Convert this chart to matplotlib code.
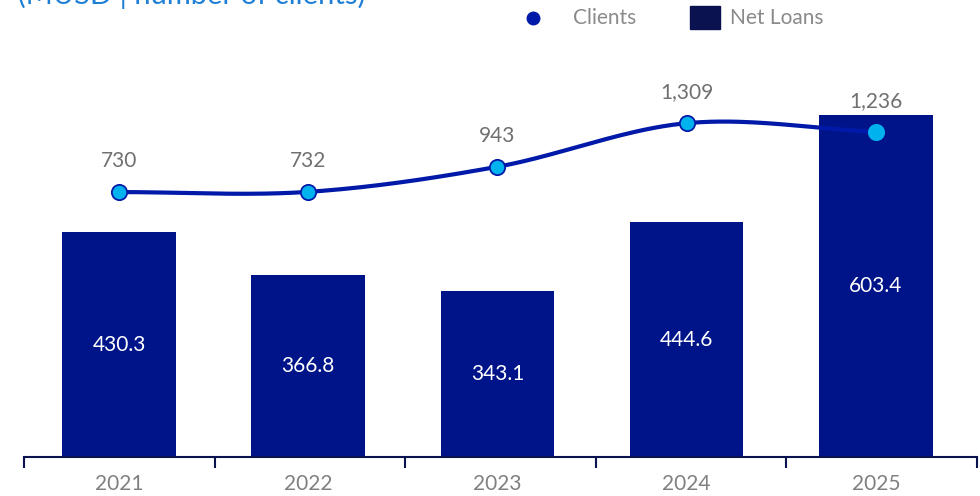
import numpy as np
import matplotlib
matplotlib.use("Agg")
import matplotlib.pyplot as plt
from matplotlib.patches import Rectangle
from matplotlib.lines import Line2D

years = ["2021", "2022", "2023", "2024", "2025"]
net_loans = [430.3, 366.8, 343.1, 444.6, 603.4]
clients = [730, 732, 943, 1309, 1236]
client_labels = ["730", "732", "943", "1,309", "1,236"]

BAR = "#001489"
LINE = "#0019A8"
DOT = "#00B2EE"
NAVY = "#0B1250"
GREY = "#707070"
FONT = "Lato"


def smooth(xs, ys, n=40):
    """Catmull-Rom curve through the points, for drawing only."""
    xs = np.asarray(xs, float)
    ys = np.asarray(ys, float)
    m = np.gradient(ys, xs)
    m[0] = ys[1] - ys[0]
    m[-1] = ys[-1] - ys[-2]
    out_x, out_y = [], []
    for i in range(len(xs) - 1):
        t = np.linspace(0, 1, n, endpoint=False)
        h00 = 2 * t**3 - 3 * t**2 + 1
        h10 = t**3 - 2 * t**2 + t
        h01 = -2 * t**3 + 3 * t**2
        h11 = t**3 - t**2
        dx = xs[i + 1] - xs[i]
        out_x.extend(xs[i] + t * dx)
        out_y.extend(h00 * ys[i] + h10 * dx * m[i] + h01 * ys[i + 1] + h11 * dx * m[i + 1])
    out_x.append(xs[-1])
    out_y.append(ys[-1])
    return np.array(out_x), np.array(out_y)


fig = plt.figure(figsize=(9.8, 4.96), dpi=100)
W, H = 980, 496
ax = fig.add_axes([24 / W, (H - 457) / H, (977 - 24) / W, (457 - 40) / H])
x = np.arange(len(years))

ax.bar(x, net_loans, width=0.6, color=BAR, zorder=2)
ax.set_xlim(-0.502, 4.534)
ax.set_ylim(97.5, 714.4)
for xi, v in zip(x, net_loans):
    mid = (97.5 + v) / 2
    ax.text(xi, mid, f"{v:.1f}", color="white", ha="center", va="center",
            fontsize=15, family=FONT)

for s in ["top", "right", "left"]:
    ax.spines[s].set_visible(False)
ax.spines["bottom"].set_color(NAVY)
ax.spines["bottom"].set_linewidth(1.5)
ax.set_yticks([])
ax.set_xticks(x)
ax.set_xticklabels(years, color="#808080", fontsize=15, family=FONT)
ax.tick_params(axis="x", which="major", length=0, pad=12)
ax.set_xticks([-0.502, 0.507, 1.511, 2.52, 3.524, 4.534], minor=True)
ax.tick_params(axis="x", which="minor", length=8, width=1.5, color=NAVY)

ax2 = ax.twinx()
ax2.set_ylim(-1496, 2008)
ax2.set_yticks([])
for s in ax2.spines.values():
    s.set_visible(False)
sx, sy = smooth(x, clients)
ax2.plot(sx, sy, color=LINE, lw=3, zorder=3, solid_capstyle="round")
ax2.plot(x[:-1], clients[:-1], "o", ms=11, mfc=DOT, mec=LINE, mew=1.3, zorder=4)
ax2.plot(x[-1:], clients[-1:], "o", ms=11, mfc=DOT, mec=DOT, mew=1.3, zorder=4)
for xi, v, lab in zip(x, clients, client_labels):
    ax2.annotate(lab, (xi, v), xytext=(0, 31), textcoords="offset pixels",
                 ha="center", va="center", color=GREY, fontsize=15, family=FONT)

# header and legend
fig.text(18 / W, (H - 4) / H, "(MUSD | number of clients)", color="#1E7FD6",
         fontsize=21, family=FONT, ha="left", va="baseline")
fig.add_artist(Line2D([533 / W], [(H - 18) / H], marker="o", ms=9, color=LINE,
                      transform=fig.transFigure))
fig.text(573 / W, (H - 18) / H, "Clients", color="#8A8A8A", fontsize=15,
         family=FONT, va="center", ha="left")
fig.add_artist(Rectangle((690 / W, (H - 29) / H), 30 / W, 23 / H, color=NAVY,
                         transform=fig.transFigure))
fig.text(730 / W, (H - 18) / H, "Net Loans", color="#8A8A8A", fontsize=15,
         family=FONT, va="center", ha="left")

fig.savefig("out.png", dpi=100)
